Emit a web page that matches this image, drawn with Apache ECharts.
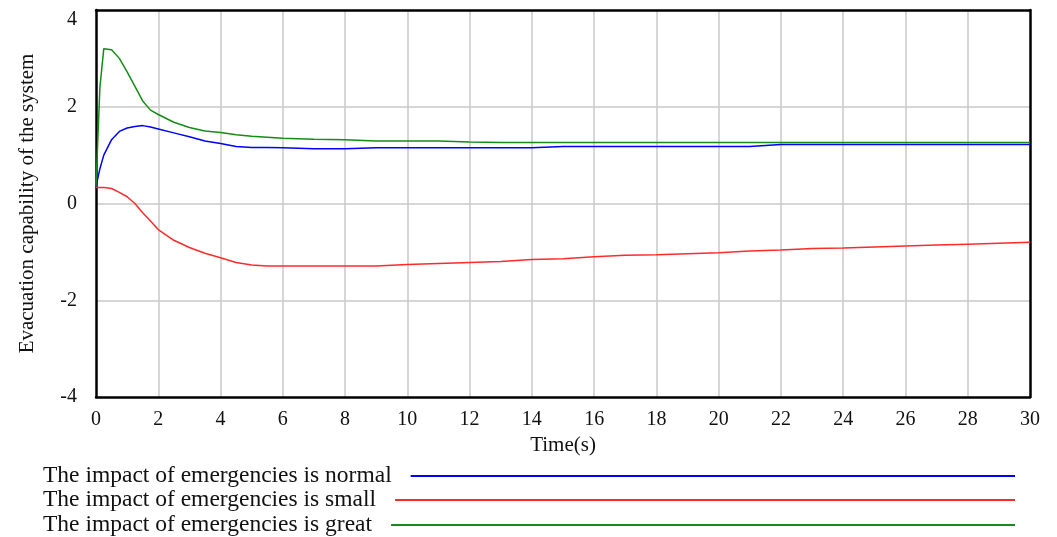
<!DOCTYPE html>
<html>
<head>
<meta charset="utf-8">
<script src="https://cdn.jsdelivr.net/npm/echarts@6/dist/echarts.min.js"></script>
<style>html,body{margin:0;padding:0;background:#fff;}#c{width:1057px;height:537px;}</style>
</head>
<body>
<div id="c"></div>
<script>
var time = [0, 0.125, 0.25, 0.5, 0.75, 1, 1.25, 1.5, 1.75, 2, 2.5, 3, 3.5, 4, 4.5, 5, 5.5, 6, 7, 8, 9, 10, 11, 12, 13, 14, 15, 16, 17, 18, 19, 20, 21, 22, 23, 24, 25, 26, 27, 28, 29, 30];
var normal = [0.35, 0.72, 1.0, 1.32, 1.49, 1.56, 1.59, 1.61, 1.58, 1.54, 1.46, 1.38, 1.29, 1.24, 1.18, 1.16, 1.16, 1.15, 1.13, 1.13, 1.15, 1.15, 1.15, 1.15, 1.15, 1.15, 1.18, 1.18, 1.18, 1.18, 1.18, 1.18, 1.18, 1.22, 1.22, 1.22, 1.22, 1.22, 1.22, 1.22, 1.22, 1.22];
var small = [0.33, 0.33, 0.33, 0.31, 0.23, 0.14, 0.0, -0.19, -0.36, -0.54, -0.76, -0.91, -1.03, -1.12, -1.22, -1.27, -1.29, -1.29, -1.29, -1.29, -1.29, -1.26, -1.24, -1.22, -1.2, -1.16, -1.14, -1.1, -1.07, -1.06, -1.04, -1.02, -0.98, -0.96, -0.93, -0.92, -0.9, -0.88, -0.86, -0.84, -0.82, -0.8];
var great = [0.35, 2.4, 3.2, 3.18, 3.0, 2.72, 2.42, 2.12, 1.93, 1.84, 1.68, 1.57, 1.5, 1.47, 1.42, 1.39, 1.37, 1.35, 1.33, 1.32, 1.29, 1.29, 1.29, 1.27, 1.26, 1.26, 1.26, 1.26, 1.26, 1.26, 1.26, 1.26, 1.26, 1.26, 1.26, 1.26, 1.26, 1.26, 1.26, 1.26, 1.26, 1.26];
var names = ['The impact of emergencies is normal', 'The impact of emergencies is small', 'The impact of emergencies is great'];
var colors = ['#0000ff', '#ff2a2a', '#158c15'];
var xTicks = [0, 30, 2];
var yTicks = [-4, 4, 2];

function pairs(vals) { return time.map(function (t, i) { return [t, vals[i]]; }); }

var FONT = '"Liberation Serif", "Times New Roman", serif';
var legendFont = 23.5;
var ctx = document.createElement('canvas').getContext('2d');
ctx.font = legendFont + 'px ' + FONT;
var legendLeft = 43, lineEnd = 1015, textGap = 19;
var rowTops = [464, 488, 513];
var legends = names.map(function (n, i) {
  var w = ctx.measureText(n).width;
  return {
    data: [n], left: legendLeft, top: rowTops[i], padding: 0, orient: 'horizontal', align: 'right',
    icon: 'rect', itemWidth: lineEnd - legendLeft - w - textGap, itemHeight: 2,
    textStyle: { fontFamily: FONT, fontSize: legendFont, color: '#111', padding: [3, textGap - 5, 0, 0] },
    selectedMode: false
  };
});

var frameAxis = { axisLine: { show: true, onZero: false, lineStyle: { color: '#000', width: 2.5 } }, axisTick: { show: false }, axisLabel: { show: false }, splitLine: { show: false } };
var gridLine = { show: true, showMinLine: false, showMaxLine: false, lineStyle: { color: '#c8c8c8', width: 1.5 } };

var chart = echarts.init(document.getElementById('c'), null, { renderer: 'canvas' });
chart.setOption({
  backgroundColor: '#fff',
  animation: false,
  grid: { left: 96, right: 27, top: 10, bottom: 140, show: false },
  legend: legends,
  xAxis: [{
    type: 'value', min: xTicks[0], max: xTicks[1], interval: xTicks[2], position: 'bottom',
    name: 'Time(s)', nameLocation: 'middle', nameGap: 36,
    nameTextStyle: { fontFamily: FONT, fontSize: 21, color: '#111' },
    axisLine: { show: true, onZero: false, lineStyle: { color: '#000', width: 2.5 } }, axisTick: { show: false },
    axisLabel: { fontFamily: FONT, fontSize: 20, color: '#111', margin: 13 },
    splitLine: gridLine
  }, Object.assign({ type: 'value', min: xTicks[0], max: xTicks[1], interval: xTicks[2], position: 'top' }, frameAxis)],
  yAxis: [{
    type: 'value', min: yTicks[0], max: yTicks[1], interval: yTicks[2], position: 'left',
    name: 'Evacuation capability of the system', nameLocation: 'middle', nameGap: 58, nameRotate: 90,
    nameTextStyle: { fontFamily: FONT, fontSize: 21, color: '#111' },
    axisLine: { show: true, onZero: false, lineStyle: { color: '#000', width: 2.5 } }, axisTick: { show: false },
    axisLabel: { fontFamily: FONT, fontSize: 20, color: '#111', margin: 19, verticalAlignMaxLabel: 'top' },
    splitLine: gridLine
  }, Object.assign({ type: 'value', min: yTicks[0], max: yTicks[1], interval: yTicks[2], position: 'right' }, frameAxis)],
  series: [normal, small, great].map(function (vals, i) {
    return {
      type: 'line', name: names[i], data: pairs(vals), symbol: 'none', smooth: false,
      lineStyle: { color: colors[i], width: 1.5 }, itemStyle: { color: colors[i] }, z: 3
    };
  })
});
</script>
</body>
</html>
